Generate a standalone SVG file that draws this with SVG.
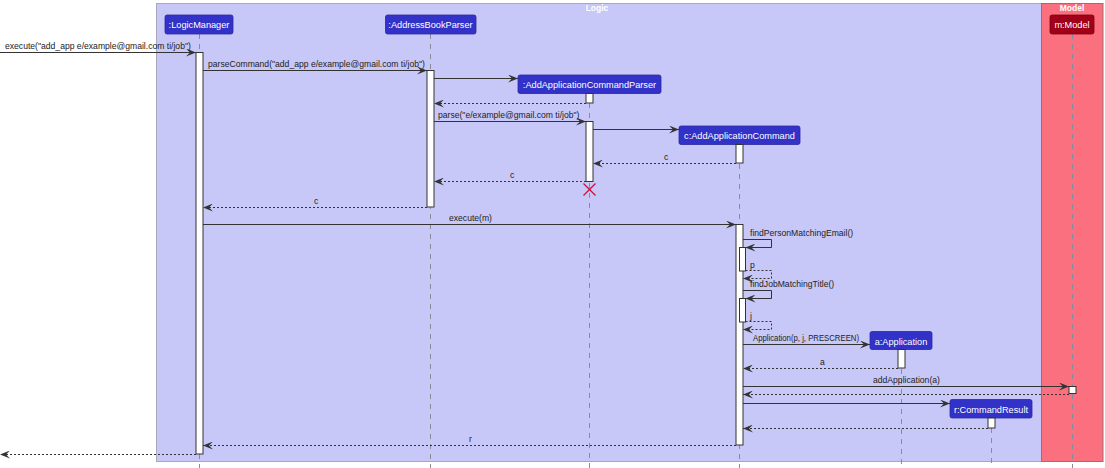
<svg xmlns="http://www.w3.org/2000/svg" width="1105" height="468" viewBox="0 0 1105 468">
<style>
.lbl{font-family:"Liberation Sans",Arial,sans-serif;font-size:8.6px;fill:#222}
.ptxt{font-family:"Liberation Sans",Arial,sans-serif;font-size:9.2px;fill:#fff;text-anchor:middle}
.btitle{font-family:"Liberation Sans",Arial,sans-serif;font-size:8.5px;font-weight:bold;fill:#fff;text-anchor:middle}
.part{fill:#3232C8;stroke:#2828A0;stroke-width:0.8}
.partm{fill:#A00018;stroke:#800010;stroke-width:0.8}
.life{stroke:#8A8A9A;stroke-width:1;stroke-dasharray:5,5;fill:none}
.act{fill:#fff;stroke:#333;stroke-width:1}
.msg{stroke:#333;stroke-width:1;fill:none;marker-end:url(#ah)}
.ret{stroke:#333;stroke-width:1;stroke-dasharray:2,2;fill:none;marker-end:url(#ah)}
</style>
<defs>
<marker id="ah" viewBox="0 0 10 8" refX="10" refY="4" markerWidth="10" markerHeight="8" markerUnits="userSpaceOnUse" orient="auto">
<path d="M0,0 L10,4 L0,8 L4,4 Z" fill="#333"/>
</marker>
</defs>
<rect width="1105" height="468" fill="#fff"/>
<g id="box-logic">
<rect x="156.5" y="3.5" width="885" height="458" fill="#C8C8F8" stroke="#A8A8B8" stroke-width="1"/>
<text class="btitle" x="597" y="11">Logic</text>
</g>
<g id="box-model">
<rect x="1041.5" y="3.5" width="61.5" height="458" fill="#FA707F" stroke="#A86870" stroke-width="1"/>
<text class="btitle" x="1072" y="11">Model</text>
</g>
<g id="lifelines">
<line class="life" x1="199.5" y1="34" x2="199.5" y2="468"/>
<line class="life" x1="430.5" y1="34" x2="430.5" y2="468"/>
<line class="life" x1="589.5" y1="93" x2="589.5" y2="468"/>
<line class="life" x1="739.5" y1="144" x2="739.5" y2="468"/>
<line class="life" x1="901.5" y1="349" x2="901.5" y2="468"/>
<line class="life" x1="991.5" y1="418" x2="991.5" y2="468"/>
<line class="life" x1="1072.5" y1="34" x2="1072.5" y2="468"/>
</g>
<g id="p-logicmanager">
<rect class="part" x="165" y="15" width="68" height="19" rx="2"/>
<text class="ptxt" x="199" y="28">:LogicManager</text>
<rect class="act" x="196" y="52.5" width="7" height="401.5"/>
</g>
<g id="p-addressbookparser">
<rect class="part" x="385.5" y="15" width="90.5" height="19" rx="2"/>
<text class="ptxt" x="430.5" y="28">:AddressBookParser</text>
<rect class="act" x="427" y="70.5" width="7" height="136.5"/>
</g>
<g id="p-aacp">
<rect class="part" x="518" y="75" width="143" height="18.5" rx="2"/>
<text class="ptxt" x="589.5" y="88">:AddApplicationCommandParser</text>
<rect class="act" x="586" y="93.5" width="7" height="9.5"/>
<rect class="act" x="586" y="121.5" width="7" height="60"/>
<g stroke="#C8103C" stroke-width="1.3"><line x1="583.5" y1="183.5" x2="595.5" y2="195.5"/><line x1="595.5" y1="183.5" x2="583.5" y2="195.5"/></g>
</g>
<g id="p-aac">
<rect class="part" x="679" y="126" width="121" height="18.5" rx="2"/>
<text class="ptxt" x="739.5" y="139">c:AddApplicationCommand</text>
<rect class="act" x="736" y="144.5" width="7" height="18.5"/>
<rect class="act" x="736" y="224.5" width="7" height="220.5"/>
<rect class="act" x="739.5" y="247.5" width="6" height="23.5"/>
<rect class="act" x="739.5" y="298.5" width="6" height="23.5"/>
</g>
<g id="p-application">
<rect class="part" x="870" y="331.5" width="62" height="18" rx="2"/>
<text class="ptxt" x="901" y="344.5">a:Application</text>
<rect class="act" x="898" y="349.5" width="7" height="18.5"/>
</g>
<g id="p-commandresult">
<rect class="part" x="950" y="399.5" width="82" height="18.5" rx="2"/>
<text class="ptxt" x="991" y="412.5">r:CommandResult</text>
<rect class="act" x="988" y="418" width="7" height="10"/>
</g>
<g id="p-model">
<rect class="partm" x="1050" y="15" width="44" height="19" rx="2"/>
<text class="ptxt" x="1072" y="28">m:Model</text>
<rect class="act" x="1069" y="386.5" width="7" height="7"/>
</g>
<g id="connectors">
<line class="msg" x1="0" y1="52.5" x2="196" y2="52.5"/>
<text class="lbl" x="5" y="49">execute("add_app e/example@gmail.com ti/job")</text>
<line class="msg" x1="203" y1="70.5" x2="427" y2="70.5"/>
<text class="lbl" x="208" y="67">parseCommand("add_app e/example@gmail.com ti/job")</text>
<line class="msg" x1="434" y1="78.5" x2="518" y2="78.5"/>
<line class="ret" x1="586" y1="103.5" x2="434" y2="103.5"/>
<line class="msg" x1="434" y1="121.5" x2="586" y2="121.5"/>
<text class="lbl" x="438" y="118">parse("e/example@gmail.com ti/job")</text>
<line class="msg" x1="593" y1="129.5" x2="679" y2="129.5"/>
<line class="ret" x1="736" y1="163.5" x2="593" y2="163.5"/>
<text class="lbl" x="664" y="160">c</text>
<line class="ret" x1="586" y1="181.5" x2="434" y2="181.5"/>
<text class="lbl" x="510" y="178">c</text>
<line class="ret" x1="427" y1="207.5" x2="203" y2="207.5"/>
<text class="lbl" x="314" y="204">c</text>
<line class="msg" x1="203" y1="224.5" x2="736" y2="224.5"/>
<text class="lbl" x="449" y="221">execute(m)</text>
<path class="msg" d="M743,239.5 H771.5 V247.5 H745.5"/>
<text class="lbl" x="750" y="236">findPersonMatchingEmail()</text>
<path class="ret" d="M745.5,270.5 H771.5 V278.5 H743"/>
<text class="lbl" x="750" y="268">p</text>
<path class="msg" d="M743,290.5 H771.5 V298.5 H745.5"/>
<text class="lbl" x="750" y="287">findJobMatchingTitle()</text>
<path class="ret" d="M745.5,321.5 H771.5 V329.5 H743"/>
<text class="lbl" x="750" y="319">j</text>
<line class="msg" x1="743" y1="344.5" x2="870" y2="344.5"/>
<text class="lbl" x="753" y="341" textLength="106" lengthAdjust="spacingAndGlyphs">Application(p, j, PRESCREEN)</text>
<line class="ret" x1="898" y1="368.5" x2="743" y2="368.5"/>
<text class="lbl" x="820" y="365">a</text>
<line class="msg" x1="743" y1="386.5" x2="1069" y2="386.5"/>
<text class="lbl" x="873" y="383">addApplication(a)</text>
<line class="ret" x1="1069" y1="394.5" x2="743" y2="394.5"/>
<line class="msg" x1="743" y1="403.5" x2="950" y2="403.5"/>
<line class="ret" x1="988" y1="428.5" x2="743" y2="428.5"/>
<line class="ret" x1="736" y1="445.5" x2="203" y2="445.5"/>
<text class="lbl" x="469" y="442">r</text>
<line class="ret" x1="196" y1="454.5" x2="0" y2="454.5"/>
</g>
</svg>
